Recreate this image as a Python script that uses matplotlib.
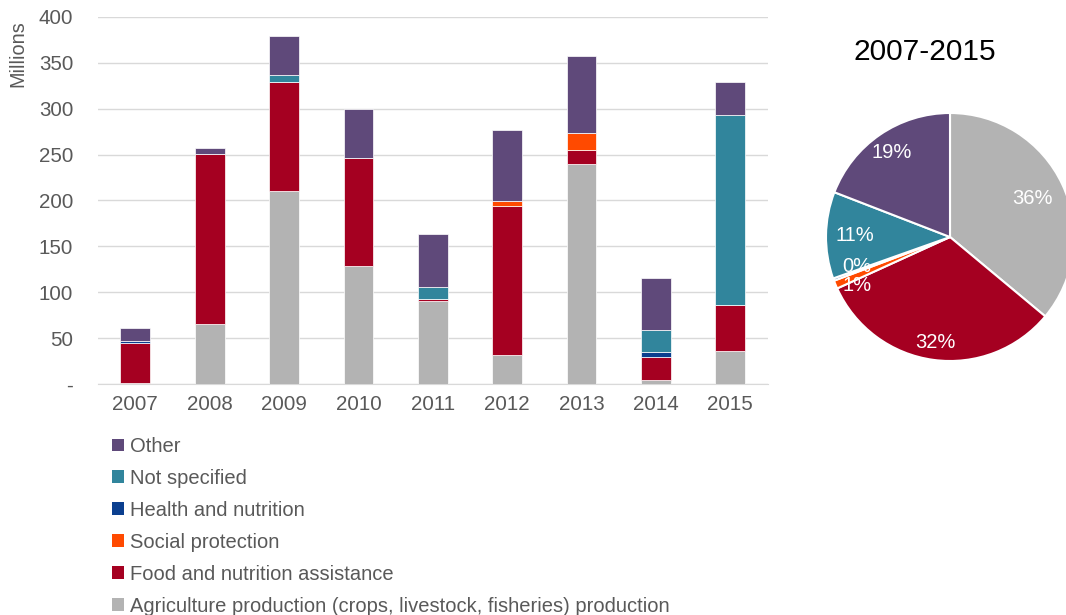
import matplotlib
matplotlib.use("Agg")
import matplotlib.pyplot as plt
from matplotlib.patches import Patch
import numpy as np

plt.rcParams['font.family'] = ['Liberation Sans', 'DejaVu Sans']

# spending by year, millions
years = ['2007', '2008', '2009', '2010', '2011', '2012', '2013', '2014', '2015']
agriculture = [1, 65, 210, 129, 91, 31.6, 240, 4.4, 35.6]
food_assist = [43.5, 185.5, 119, 117, 2, 162.4, 15, 25, 50.5]
social_prot = [0, 0, 0, 0, 0, 5, 19, 0, 0]
health_nutr = [2, 0, 0, 0, 0, 0, 0, 5, 0]
not_specified = [0, 0, 8, 0, 13, 0, 0, 24.7, 207.5]
other = [15, 7, 42, 53.5, 57.5, 78, 83, 56.7, 35.6]

series = [
    ('Agriculture production (crops, livestock, fisheries) production', agriculture, '#b3b3b3'),
    ('Food and nutrition assistance', food_assist, '#a50021'),
    ('Social protection', social_prot, '#ff4a00'),
    ('Health and nutrition', health_nutr, '#0b3f8f'),
    ('Not specified', not_specified, '#31859c'),
    ('Other', other, '#5f497a'),
]

fig = plt.figure(figsize=(10.66, 6.15), dpi=100)
ax = fig.add_axes([0.092, 0.3756, 0.628, 0.5968])

x = np.arange(len(years))
bottom = np.zeros(len(years))
for name, vals, col in series:
    vals = np.array(vals, dtype=float)
    ax.bar(x, vals, 0.4, bottom=bottom, color=col, edgecolor='white', linewidth=0.5, zorder=3)
    bottom += vals

ax.set_xlim(-0.5, len(years) - 0.5)
ax.set_ylim(0, 400)
ax.set_yticks(range(0, 401, 50))
ax.set_yticklabels(['-'] + [str(v) for v in range(50, 401, 50)])
ax.set_xticks(x)
ax.set_xticklabels(years)
ax.tick_params(axis='both', length=0, labelsize=14.8, colors='#595959', pad=8)
ax.tick_params(axis='y', pad=18)
ax.grid(axis='y', color='#d9d9d9', linewidth=1, zorder=0)
for s in ['top', 'right', 'left']:
    ax.spines[s].set_visible(False)
ax.spines['bottom'].set_color('#d9d9d9')
fig.text(18 / 1066, 1 - 54 / 615, 'Millions', rotation=90, ha='center', va='center',
         fontsize=14.3, color='#595959')

handles = [Patch(facecolor=col, edgecolor='none', label=name) for name, vals, col in series[::-1]]
fig.legend(handles=handles, loc='upper left', bbox_to_anchor=(104 / 1066, 1 - 429 / 615),
           frameon=False, fontsize=14.5, labelcolor='#595959', handlelength=0.6,
           handleheight=0.6, handletextpad=0.3, labelspacing=0.64, borderaxespad=0)

# pie of totals over all years
totals = [sum(vals) for name, vals, col in series]
colors = [col for name, vals, col in series]
pax = fig.add_axes([826 / 1066, 1 - 361 / 615, 248 / 1066, 248 / 615])
wedges, texts, autotexts = pax.pie(totals, colors=colors, startangle=90, counterclock=False,
                                   autopct='%.0f%%', pctdistance=0.8,
                                   wedgeprops=dict(edgecolor='white', linewidth=1.5),
                                   textprops=dict(color='white', fontsize=14.5))
pax.set_xlim(-1, 1)
pax.set_ylim(-1, 1)
pax.set_aspect('equal')

# label distance from centre, per slice
label_r = [0.73, 0.86, 0.8, 0.8, 0.77, 0.83]
for w, t, r in zip(wedges, autotexts, label_r):
    ang = np.deg2rad((w.theta1 + w.theta2) / 2)
    t.set_position((r * np.cos(ang), r * np.sin(ang)))
# two thin slices: keep their labels from sitting on each other
autotexts[2].set_position((-0.75, -0.39))
autotexts[3].set_position((-0.75, -0.24))
fig.text(925 / 1066, 1 - 52 / 615, '2007-2015', ha='center', va='center', fontsize=21.5, color='black')

fig.savefig('out.png', dpi=100)
